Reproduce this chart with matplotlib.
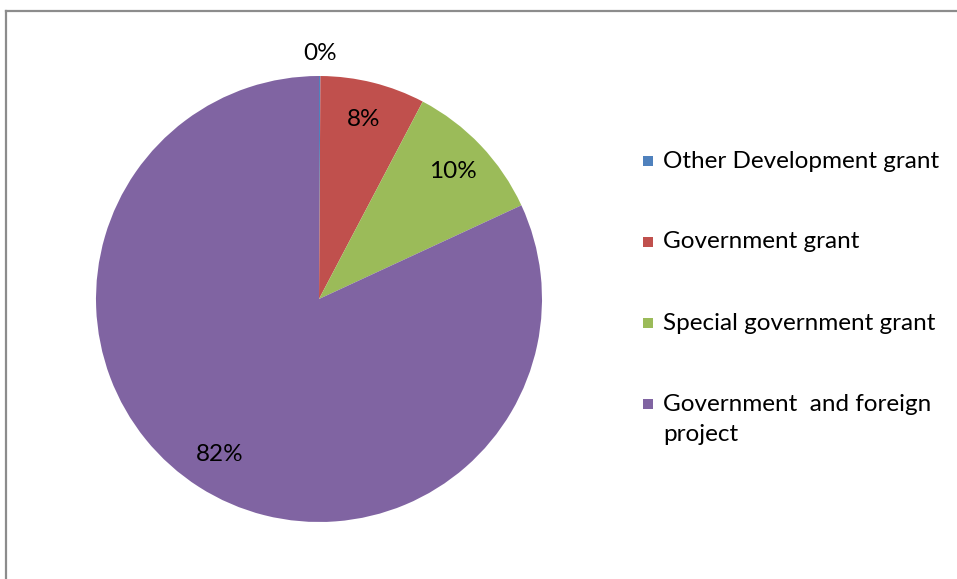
import matplotlib
matplotlib.use("Agg")
import matplotlib.pyplot as plt
from matplotlib.patches import Rectangle
from matplotlib.lines import Line2D
import numpy as np

categories = ["Other Development grant", "Government grant",
              "Special government grant", "Government  and foreign\nproject"]
values = [0.1, 7.6, 10.4, 81.9]
pct_labels = ["0%", "8%", "10%", "82%"]
colors = ["#4F81BD", "#C0504D", "#9BBB59", "#8064A2"]

plt.rcParams['font.family'] = ['Lato', 'DejaVu Sans']

W, H = 957, 579
fig = plt.figure(figsize=(W / 100, H / 100), dpi=100)

# outer frame (cut off at right and bottom): only top and left edges visible
fx, fy = 5.5 / W, (H - 11) / H
fig.lines.append(Line2D([fx, 1.0], [fy, fy], transform=fig.transFigure,
                        color="#8c8c8c", linewidth=1.6))
fig.lines.append(Line2D([fx, fx], [0.0, fy], transform=fig.transFigure,
                        color="#8c8c8c", linewidth=1.6))

cx, cy, r = 319, H - 299, 223
ax = fig.add_axes([(cx - r) / W, (cy - r) / H, 2 * r / W, 2 * r / H])
wedges, _ = ax.pie(values, colors=colors, startangle=90, counterclock=False,
                   radius=1.0, wedgeprops=dict(linewidth=0))
ax.set_xlim(-1, 1)
ax.set_ylim(-1, 1)
ax.set_aspect("equal")
ax.axis("off")

for w, lab, v in zip(wedges, pct_labels, values):
    ang = np.deg2rad((w.theta1 + w.theta2) / 2)
    d = 1.1 if v < 1 else 0.83
    ax.text(d * np.cos(ang), d * np.sin(ang), lab, ha="center", va="center",
            fontsize=17.5, color="#000000", clip_on=False)

# legend
ys = [161, 242, 323, 404]
for y, lab, c in zip(ys, categories, colors):
    fig.patches.append(Rectangle((643 / W, (H - y - 5) / H), 10 / W, 10 / H,
                                 transform=fig.transFigure, facecolor=c, edgecolor="none"))
    if "\n" in lab:
        fig.text(663 / W, (H - y + 10) / H, lab, ha="left", va="top",
                 fontsize=17.5, color="#000000", linespacing=1.55)
    else:
        fig.text(663 / W, (H - y) / H, lab, ha="left", va="center",
                 fontsize=17.5, color="#000000")

fig.savefig("out.png", dpi=100)
